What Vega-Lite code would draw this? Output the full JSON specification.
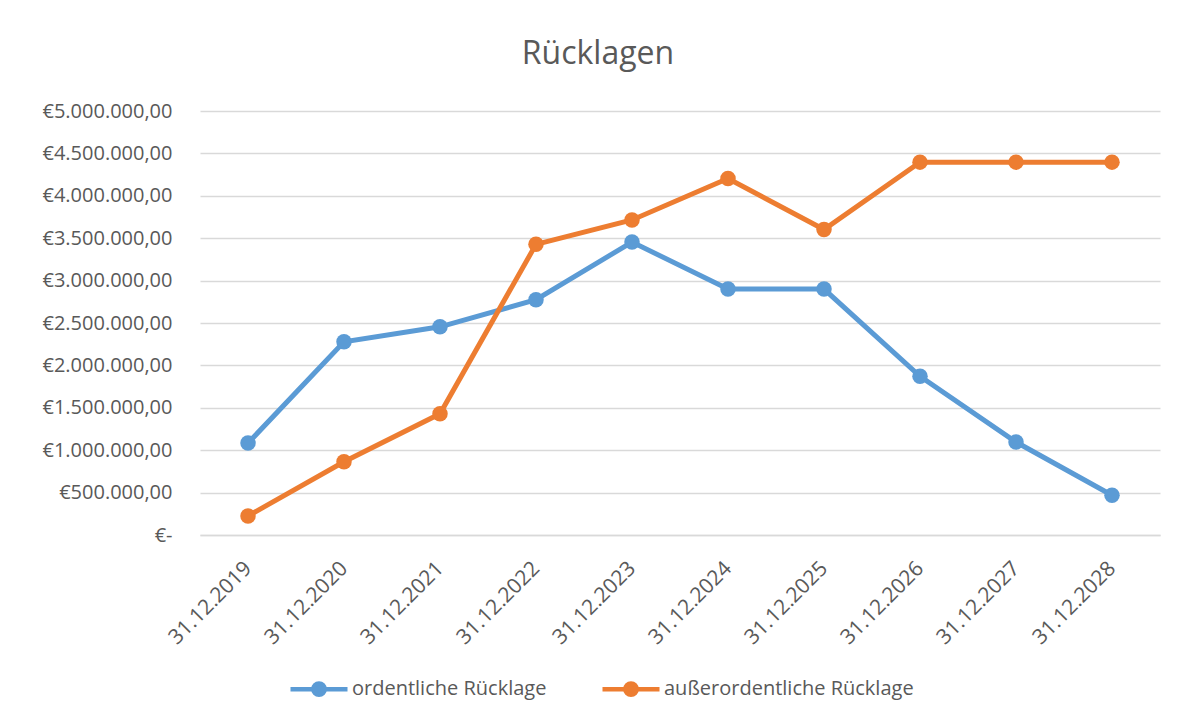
{
  "$schema": "https://vega.github.io/schema/vega-lite/v6.json",
  "width": 960,
  "height": 424,
  "autosize": "none",
  "padding": {"left": 200, "top": 111, "right": 19, "bottom": 182},
  "background": "white",
  "config": {
    "locale": {"number": {"decimal": ",", "thousands": ".", "grouping": [3], "currency": ["€", ""]}},
    "font": "Open Sans",
    "view": {"stroke": null}
  },
  "title": {
    "text": "Rücklagen",
    "fontSize": 32,
    "fontWeight": "normal",
    "color": "#595959",
    "font": "Open Sans",
    "anchor": "middle",
    "dx": -82,
    "offset": 30
  },
  "data": {
    "values": [
      {"datum": "31.12.2019", "reihe": "ordentliche Rücklage", "wert": 1084000},
      {"datum": "31.12.2020", "reihe": "ordentliche Rücklage", "wert": 2278000},
      {"datum": "31.12.2021", "reihe": "ordentliche Rücklage", "wert": 2455000},
      {"datum": "31.12.2022", "reihe": "ordentliche Rücklage", "wert": 2774000},
      {"datum": "31.12.2023", "reihe": "ordentliche Rücklage", "wert": 3455000},
      {"datum": "31.12.2024", "reihe": "ordentliche Rücklage", "wert": 2900000},
      {"datum": "31.12.2025", "reihe": "ordentliche Rücklage", "wert": 2900000},
      {"datum": "31.12.2026", "reihe": "ordentliche Rücklage", "wert": 1871000},
      {"datum": "31.12.2027", "reihe": "ordentliche Rücklage", "wert": 1096000},
      {"datum": "31.12.2028", "reihe": "ordentliche Rücklage", "wert": 469000},
      {"datum": "31.12.2019", "reihe": "außerordentliche Rücklage", "wert": 225000},
      {"datum": "31.12.2020", "reihe": "außerordentliche Rücklage", "wert": 863000},
      {"datum": "31.12.2021", "reihe": "außerordentliche Rücklage", "wert": 1430000},
      {"datum": "31.12.2022", "reihe": "außerordentliche Rücklage", "wert": 3428000},
      {"datum": "31.12.2023", "reihe": "außerordentliche Rücklage", "wert": 3715000},
      {"datum": "31.12.2024", "reihe": "außerordentliche Rücklage", "wert": 4204000},
      {"datum": "31.12.2025", "reihe": "außerordentliche Rücklage", "wert": 3602000},
      {"datum": "31.12.2026", "reihe": "außerordentliche Rücklage", "wert": 4397000},
      {"datum": "31.12.2027", "reihe": "außerordentliche Rücklage", "wert": 4397000},
      {"datum": "31.12.2028", "reihe": "außerordentliche Rücklage", "wert": 4397000}
    ]
  },
  "mark": {
    "type": "line",
    "strokeWidth": 5,
    "point": {"filled": true, "size": 240, "opacity": 1}
  },
  "encoding": {
    "x": {
      "field": "datum",
      "type": "ordinal",
      "sort": null,
      "scale": {"type": "point", "padding": 0.5},
      "axis": {
        "title": null,
        "labelAngle": -45,
        "labelAlign": "right",
        "labelBaseline": "middle",
        "labelFontSize": 21,
        "labelColor": "#595959",
        "labelPadding": 30,
        "labelLimit": 300,
        "ticks": false,
        "domainColor": "#D9D9D9",
        "domainWidth": 1.5,
        "grid": false
      }
    },
    "y": {
      "field": "wert",
      "type": "quantitative",
      "scale": {"domain": [0, 5000000], "nice": false},
      "axis": {
        "title": null,
        "values": [0, 500000, 1000000, 1500000, 2000000, 2500000, 3000000, 3500000, 4000000, 4500000, 5000000],
        "labelExpr": "datum.value == 0 ? '€-\u2007' : '€' + format(datum.value, ',.2f')",
        "labelFontSize": 20,
        "labelColor": "#595959",
        "labelPadding": 28,
        "labelLimit": 300,
        "ticks": false,
        "domain": false,
        "gridColor": "#D9D9D9",
        "gridWidth": 1.5
      }
    },
    "color": {
      "field": "reihe",
      "type": "nominal",
      "scale": {
        "domain": ["ordentliche Rücklage", "außerordentliche Rücklage"],
        "range": ["#5B9BD5", "#ED7D31"]
      },
      "legend": {
        "title": null,
        "orient": "none",
        "direction": "horizontal",
        "legendX": 88,
        "legendY": 547,
        "symbolType": "M-1,0H1M-0.2,0A0.2,0.2 0 1,1 0.2,0A0.2,0.2 0 1,1 -0.2,0Z",
        "symbolSize": 3249,
        "symbolStrokeWidth": 4.5,
        "labelFontSize": 20,
        "labelColor": "#595959",
        "labelOffset": 2,
        "labelLimit": 400,
        "columnPadding": 46,
        "encode": {
          "symbols": {"update": {"fill": {"scale": "color", "field": "value"}, "fillOpacity": {"value": 1}}}
        }
      }
    }
  }
}
